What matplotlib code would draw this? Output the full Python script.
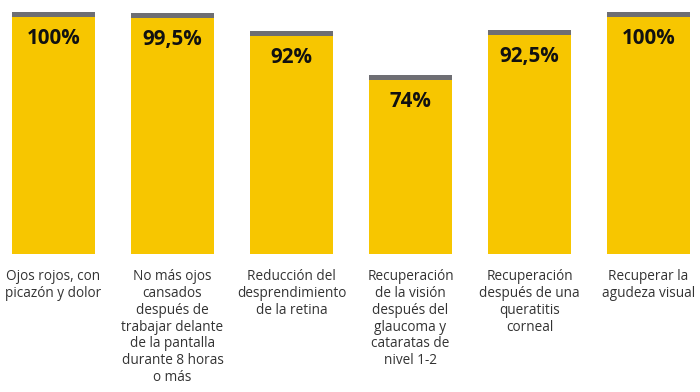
import matplotlib
matplotlib.use("Agg")
import matplotlib.pyplot as plt

categories = [
    "Ojos rojos, con\npicazón y dolor",
    "No más ojos\ncansados\ndespués de\ntrabajar delante\nde la pantalla\ndurante 8 horas\no más",
    "Reducción del\ndesprendimiento\nde la retina",
    "Recuperación\nde la visión\ndespués del\nglaucoma y\ncataratas de\nnivel 1-2",
    "Recuperación\ndespués de una\nqueratitis\ncorneal",
    "Recuperar la\nagudeza visual",
]
values = [100, 99.5, 92, 74, 92.5, 100]
value_labels = ["100%", "99,5%", "92%", "74%", "92,5%", "100%"]

W, H = 700, 392
fig = plt.figure(figsize=(W / 100, H / 100), dpi=100)
fig.patch.set_facecolor("white")

bar_bottom_px = 254
full_px = 242
ax = fig.add_axes([0, (H - bar_bottom_px) / H, 1, full_px / H])
step = 119
c0 = 53.5
ax.set_xlim(-c0 / step, 5 + (W - c0 - 5 * step) / step)
ax.set_ylim(0, 100)
ax.axis("off")

yellow = "#F7C600"
gray = "#6E6E73"
cap = 1.9
x = list(range(len(values)))
ax.bar(x, values, width=83 / step, color=yellow, edgecolor="none", clip_on=False)
ax.bar(x, [cap] * len(values), bottom=[v - cap for v in values], width=83 / step,
       color=gray, edgecolor="none", clip_on=False)

for xi, v, lab in zip(x, values, value_labels):
    ax.text(xi, v - 11.0, lab, ha="center", va="center", fontsize=14.8,
            fontweight="bold", color="#111111", family="Open Sans", clip_on=False)

for xi, cat in zip(x, categories):
    ax.text(xi, -6.2, cat, ha="center", va="top", fontsize=9.8, color="#333333",
            family="Open Sans", linespacing=1.17, clip_on=False)

fig.savefig("out.png", dpi=100, facecolor="white")
